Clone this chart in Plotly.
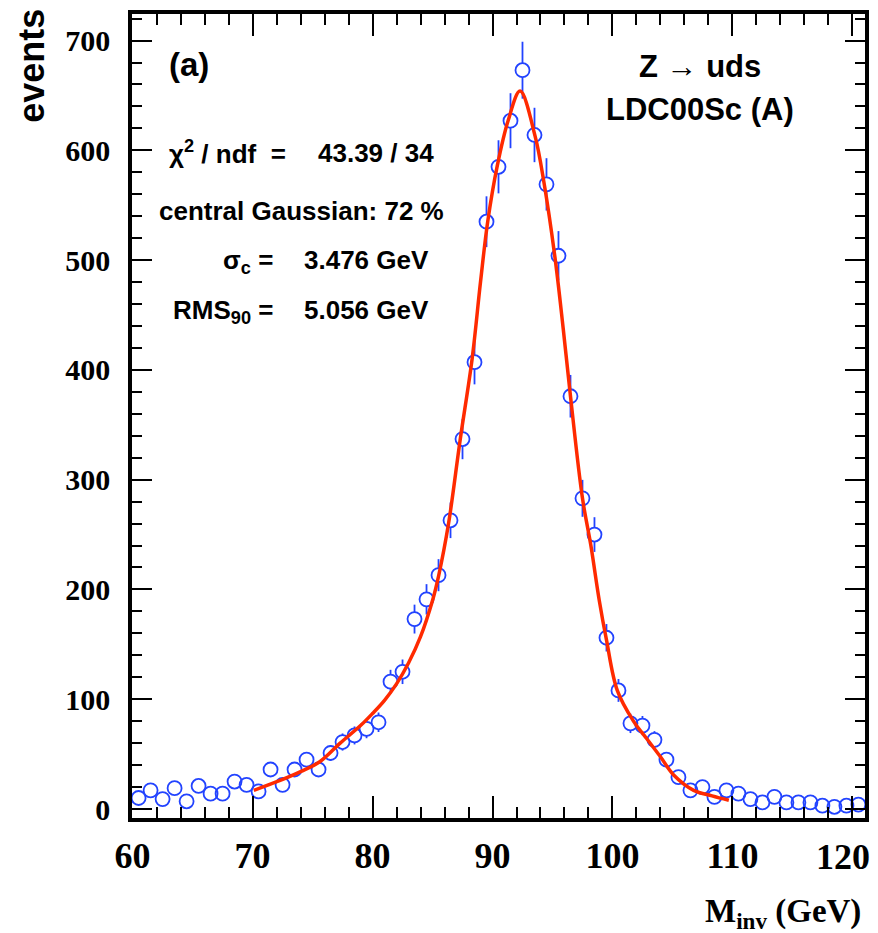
import plotly.graph_objects as go

# ---- data -------------------------------------------------------------
bin_centers = [60.5, 61.5, 62.5, 63.5, 64.5, 65.5, 66.5, 67.5, 68.5, 69.5,
               70.5, 71.5, 72.5, 73.5, 74.5, 75.5, 76.5, 77.5, 78.5, 79.5,
               80.5, 81.5, 82.5, 83.5, 84.5, 85.5, 86.5, 87.5, 88.5, 89.5,
               90.5, 91.5, 92.5, 93.5, 94.5, 95.5, 96.5, 97.5, 98.5, 99.5,
               100.5, 101.5, 102.5, 103.5, 104.5, 105.5, 106.5, 107.5, 108.5, 109.5,
               110.5, 111.5, 112.5, 113.5, 114.5, 115.5, 116.5, 117.5, 118.5, 119.5,
               120.5]
events = [10, 17, 9, 19, 7, 21, 14, 14, 25, 22,
          16, 36, 22, 36, 45, 36, 51, 61, 67, 73,
          79, 116, 125, 173, 191, 213, 263, 337, 407, 535,
          585, 627, 673, 614, 569, 504, 376, 283, 250, 156,
          108, 78, 76, 63, 45, 29, 17, 20, 11, 17,
          14, 9, 6, 11, 6, 6, 6, 3, 2, 3,
          4]

fit_x = [70.1, 72.3, 74.0, 75.6, 77.3, 79.0, 80.0, 81.0, 82.0, 83.0,
         84.0, 85.0, 85.5, 86.35, 87.3, 88.3, 89.0, 89.6, 90.4, 91.3,
         92.3, 93.55, 94.3, 95.2, 95.9, 96.5, 97.5, 98.2, 98.9, 99.5,
         100.4, 101.75, 102.86, 103.97, 105.1, 106.77, 108.3, 109.7]
fit_y = [17, 26, 34, 43, 60, 76, 87, 99, 114, 133,
         157, 190, 212, 261, 336, 410, 480, 535, 586, 627,
         654, 613, 570, 503, 437, 376, 283, 240, 190, 154,
         108, 80, 64, 48, 31, 17, 12, 8]

x_ticks = [60, 70, 80, 90, 100, 110, 120]
x_tick_text = ["60", "70", "80", "90", "100", "110", ""]
last_x_label = "120"
y_ticks = [0, 100, 200, 300, 400, 500, 600, 700]

BLUE = "#2243ff"
RED = "#ff2a00"

fig = go.Figure()

# white discs that hide the error bar inside each circle
fig.add_trace(go.Scatter(
    x=bin_centers, y=events, mode="markers",
    marker=dict(symbol="circle", size=14, color="white", line=dict(width=0)),
    error_y=dict(type="sqrt", color=BLUE, thickness=1.8, width=0),
    hoverinfo="skip", showlegend=False))
# open circles
fig.add_trace(go.Scatter(
    x=bin_centers, y=events, mode="markers",
    marker=dict(symbol="circle-open", size=14, color=BLUE, line=dict(width=1.8, color=BLUE)),
    showlegend=False))
# fit curve
fig.add_trace(go.Scatter(
    x=fit_x, y=fit_y, mode="lines",
    line=dict(color=RED, width=3.5, shape="spline", smoothing=1.0),
    showlegend=False))

axis_common = dict(
    showline=True, linewidth=3.5, linecolor="black", mirror="ticks",
    ticks="inside", tickwidth=2, tickcolor="black",
    showgrid=False, zeroline=False, automargin=False,
)

XFONT = dict(family="Liberation Serif", size=36, color="black", weight="bold")

fig.update_xaxes(
    range=[59.95, 121.05], tickvals=x_ticks, ticktext=x_tick_text,
    ticklen=22,
    minor=dict(ticks="inside", dtick=2, ticklen=11, tickwidth=2, tickcolor="black", showgrid=False),
    tickfont=XFONT, ticklabelstandoff=3, ticklabeloverflow="allow",
    **axis_common)
fig.update_yaxes(
    range=[-8.2, 724.2], tickvals=y_ticks, ticktext=[str(v) for v in y_ticks],
    ticklen=20,
    minor=dict(ticks="inside", dtick=20, ticklen=10, tickwidth=2, tickcolor="black", showgrid=False),
    tickfont=dict(family="Liberation Serif", size=30, color="black", weight="bold"),
    ticklabelstandoff=12, ticklabeloverflow="allow",
    **axis_common)

SANS = "Liberation Sans, Arial, sans-serif"


def px2x(px):
    return 60 + (px - 132.3) / 12.0


def px2y(py):
    return (809 - py) / 1.0971


annots = []


def add(text, px, py, size, xanchor="center", family=SANS, yanchor="middle"):
    annots.append(dict(x=px2x(px), y=px2y(py), xref="x", yref="y", text=text,
                       showarrow=False, xanchor=xanchor, yanchor=yanchor,
                       font=dict(family=family, size=size, color="black", weight="bold")))


add("(a)", 189, 65, 33)
add("Z \u2192 uds", 700, 67, 31)
add("LDC00Sc (A)", 700, 110, 31)
add("\u03c7<sup>2</sup> / ndf  =", 288, 153, 26, xanchor="right")
add("43.39 / 34", 316, 153, 26, xanchor="left")
add("central Gaussian: 72 %", 301, 211, 26)
add("\u03c3<sub>c</sub> =", 275, 262, 26, xanchor="right")
add("3.476 GeV", 302, 260, 26, xanchor="left")
add("RMS<sub>90</sub> =", 275, 312, 26, xanchor="right")
add("5.056 GeV", 302, 310, 26, xanchor="left")

# last x tick label, pulled slightly inside the page as in the reference
annots.append(dict(x=(843 - 131.7) / 733.3, y=-(857 - 818) / 803.5, xref="paper", yref="paper",
                   text=last_x_label, showarrow=False, xanchor="center", yanchor="middle",
                   font=XFONT))

# axis titles
annots.append(dict(x=1.0, y=-(913 - 818) / 803.5, xref="paper", yref="paper",
                   text="M<sub>inv</sub> (GeV)", showarrow=False,
                   xanchor="right", yanchor="middle", xshift=-2,
                   font=dict(family="Liberation Serif", size=33, color="black", weight="bold")))
annots.append(dict(x=(31 - 131.7) / 733.3, y=(818 - 66) / 803.5, xref="paper", yref="paper",
                   text="events", showarrow=False, textangle=-90,
                   xanchor="center", yanchor="middle",
                   font=dict(family="Liberation Sans Narrow, Liberation Sans, sans-serif",
                             size=36, color="black", weight="bold")))

fig.update_layout(
    width=878, height=933, autosize=False,
    margin=dict(l=132, r=13, t=14, b=115, autoexpand=False),
    paper_bgcolor="white", plot_bgcolor="white",
    annotations=annots,
    showlegend=False,
)

fig.write_html("out.html")
